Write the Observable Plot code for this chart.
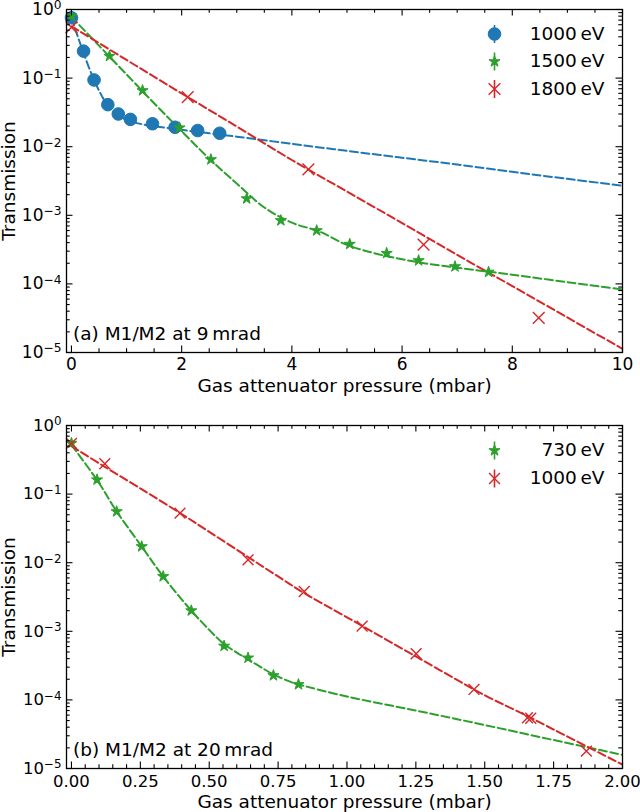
<!DOCTYPE html>
<html><head><meta charset="utf-8">
<script src="https://cdn.jsdelivr.net/npm/d3@7"></script>
<script src="https://cdn.jsdelivr.net/npm/@observablehq/plot@0.6"></script>
<style>
body{margin:0;background:#fff;}
#chart{width:640px;}
#chart svg{display:block;}
</style></head><body><div id="chart"></div>
<script>
// ---------- Panel (a): M1/M2 at 9 mrad ----------
const a_e1000_x = [0, 0.22, 0.41, 0.66, 0.85, 1.07, 1.47, 1.88, 2.29, 2.69];
const a_e1000_y = [0.757, 0.247, 0.094, 0.041, 0.030, 0.025, 0.0216, 0.0192, 0.0172, 0.0157];
const a_e1500_x = [0, 0.69, 1.29, 1.96, 2.53, 3.18, 3.80, 4.45, 5.05, 5.72, 6.30, 6.96, 7.57];
const a_e1500_y = [0.80, 0.209, 0.066, 0.0189, 0.0065, 0.00175, 0.00084, 0.00060, 0.00038, 0.00028, 0.000219, 0.000179, 0.000149];
const a_e1800_x = [0, 2.11, 4.30, 6.39, 8.48];
const a_e1800_y = [0.55, 0.0527, 0.00466, 0.000375, 0.000032];

const a_fit1000_x = [0, 0.1, 0.2, 0.3, 0.4, 0.5, 0.6, 0.7, 0.8, 0.9, 1.0, 1.25, 1.5, 2, 2.5, 3, 4, 5, 6, 7, 8, 9, 10];
const a_fit1000_y = [0.76, 0.438, 0.257, 0.155, 0.098, 0.066, 0.047, 0.0367, 0.0306, 0.0268, 0.0246, 0.0215, 0.0199, 0.0176, 0.0157, 0.0140, 0.0110, 0.0087, 0.0069, 0.0055, 0.0043, 0.0034, 0.0027];
const a_fit1500_x = [0, 0.5, 1.0, 1.5, 2.0, 2.5, 3.0, 3.5, 4.0, 4.5, 5.0, 5.5, 6.0, 6.5, 7.0, 7.5, 8.0, 9.0, 10];
const a_fit1500_y = [0.78, 0.297, 0.113, 0.043, 0.0168, 0.0067, 0.0029, 0.0013, 0.00078, 0.00058, 0.00037, 0.00028, 0.000228, 0.000195, 0.000172, 0.000153, 0.000136, 0.000106, 0.000083];
const a_fit1800_x = [0, 1, 2, 3, 4, 5, 6, 7, 8, 9, 10];
const a_fit1800_y = [0.57, 0.184, 0.0597, 0.0197, 0.0064, 0.00222, 0.00077, 0.000265, 0.000093, 0.0000324, 0.0000113];

// ---------- Panel (b): M1/M2 at 20 mrad ----------
const b_e730_x = [0, 0.093, 0.164, 0.255, 0.333, 0.435, 0.554, 0.641, 0.733, 0.824];
const b_e730_y = [0.552, 0.162, 0.0557, 0.0172, 0.0063, 0.0020, 0.00061, 0.00041, 0.000227, 0.000168];
const b_e1000_x = [0, 0.121, 0.394, 0.641, 0.845, 1.055, 1.251, 1.461, 1.655, 1.667, 1.869];
const b_e1000_y = [0.55, 0.277, 0.0527, 0.011, 0.0038, 0.00119, 0.00047, 0.000142, 0.000055, 0.000054, 0.0000179];

const b_fit730_x = [0, 0.093, 0.164, 0.255, 0.333, 0.435, 0.5, 0.554, 0.6, 0.641, 0.7, 0.733, 0.8, 0.824, 1.0, 1.25, 1.5, 1.75, 2.0];
const b_fit730_y = [0.52, 0.16, 0.056, 0.0172, 0.0063, 0.0020, 0.00105, 0.00065, 0.00049, 0.00039, 0.00028, 0.000235, 0.00018, 0.000168, 0.000112, 0.00007, 0.000043, 0.000026, 0.0000158];
const b_fit1000_x = [0, 0.121, 0.25, 0.394, 0.5, 0.641, 0.75, 0.845, 1.0, 1.25, 1.5, 1.655, 1.75, 2.0];
const b_fit1000_y = [0.50, 0.25, 0.121, 0.053, 0.0282, 0.0121, 0.0063, 0.0036, 0.0016, 0.00043, 0.000117, 0.000058, 0.000037, 0.0000114];

// ---------- ticks / labels ----------
const yMajor = [1e-5, 1e-4, 1e-3, 1e-2, 1e-1, 1];
const a_xMajor = [0, 2, 4, 6, 8, 10];
const a_xMinor = [0.5, 1, 1.5, 2.5, 3, 3.5, 4.5, 5, 5.5, 6.5, 7, 7.5, 8.5, 9, 9.5];
const b_xMajor = [0, 0.25, 0.5, 0.75, 1.0, 1.25, 1.5, 1.75, 2.0];
const xLabel = "Gas attenuator pressure (mbar)";
const yLabel = "Transmission";

const BLUE = "#1f77b4", GREEN = "#2ca02c", RED = "#d62728";
const vbar = {draw(ctx, size) { const h = Math.sqrt(size / Math.PI); ctx.moveTo(0, -h); ctx.lineTo(0, h); }};

function logMinor() {
  const out = [];
  for (const d of yMajor.slice(0, -1)) for (let m = 2; m <= 9; m++) out.push(d * m);
  return out;
}
function linMinor(major, step) {
  const out = [];
  const lo = major[0], hi = major[major.length - 1];
  const n = Math.round((hi - lo) / step);
  for (let i = 0; i <= n; i++) {
    const v = +(lo + i * step).toFixed(6);
    if (!major.some(m => Math.abs(m - v) < 1e-9)) out.push(v);
  }
  return out;
}

function makePanel(cfg) {
  const W = 640, H = 406, ml = 66, mr = 18;
  const fw = W - ml - mr, fh = H - cfg.mt - cfg.mb;
  const yMinor = logMinor();
  const tk = {stroke: "black", strokeWidth: 1.1};
  const marks = [];
  for (const f of cfg.fits) {
    marks.push(Plot.line(d3.zip(f.x, f.y), {x: d => d[0], y: d => d[1], stroke: f.color, strokeWidth: 2, strokeDasharray: "8,3.5", curve: "catmull-rom", clip: true}));
  }
  for (const s of cfg.series) {
    marks.push(Plot.dot(d3.zip(s.x, s.y), {x: d => d[0], y: d => d[1], symbol: s.symbol, r: s.r, fill: s.fill, stroke: s.color, strokeWidth: s.sw}));
  }
  // ticks (inward, all four sides)
  marks.push(
    Plot.tickX(cfg.xMajor, {x: d => d, insetTop: fh - 6.5, ...tk}),
    Plot.tickX(cfg.xMajor, {x: d => d, insetBottom: fh - 6.5, ...tk}),
    Plot.tickX(cfg.xMinor, {x: d => d, insetTop: fh - 3.7, ...tk}),
    Plot.tickX(cfg.xMinor, {x: d => d, insetBottom: fh - 3.7, ...tk}),
    Plot.tickY(yMajor, {y: d => d, insetRight: fw - 6.5, ...tk}),
    Plot.tickY(yMajor, {y: d => d, insetLeft: fw - 6.5, ...tk}),
    Plot.tickY(yMinor, {y: d => d, insetRight: fw - 3.7, ...tk}),
    Plot.tickY(yMinor, {y: d => d, insetLeft: fw - 3.7, ...tk}),
    Plot.frame({stroke: "black", strokeWidth: 1.3}),
    Plot.axisX({ticks: cfg.xMajor, tickSize: 0, tickPadding: cfg.xPad, tickFormat: cfg.xFormat, label: null, fontSize: cfg.tickFont}),
    Plot.axisY({ticks: yMajor, tickSize: 0, tickPadding: 5, tickFormat: d => { const k = Math.round(Math.log10(d)); return "10^" + (k < 0 ? "\u2212" + (-k) : k); }, label: null, fontSize: cfg.tickFont}),
    Plot.text([xLabel], {text: d => d, frameAnchor: "bottom", dy: 26, textAnchor: "middle", lineAnchor: "top", fontSize: 18.5}),
    Plot.text([yLabel], {text: d => d, frameAnchor: "left", dx: -57, rotate: -90, textAnchor: "middle", lineAnchor: "middle", fontSize: 18.5}),
    Plot.text([cfg.tag], {text: d => d, frameAnchor: "bottom-left", dx: 6.5, dy: -18, textAnchor: "start", lineAnchor: "middle", fontSize: 18.5})
  );
  cfg.series.forEach((s, i) => {
    const dy = cfg.legTop + cfg.legStep * i;
    marks.push(
      Plot.dot([0], {frameAnchor: "top-right", dx: -128, dy, symbol: vbar, r: 9, stroke: s.color, strokeWidth: 1.6, fill: "none"}),
      Plot.dot([0], {frameAnchor: "top-right", dx: -128, dy, symbol: s.symbol, r: s.r, fill: s.fill, stroke: s.color, strokeWidth: s.sw}),
      Plot.text([s.label], {text: d => d, frameAnchor: "top-right", dx: -18, dy, textAnchor: "end", lineAnchor: "middle", fontSize: 18.5})
    );
  });
  const svg = Plot.plot({
    width: W, height: H, marginLeft: ml, marginRight: mr, marginTop: cfg.mt, marginBottom: cfg.mb,
    style: {fontFamily: "'DejaVu Sans', sans-serif", fontSize: "17px", background: "white", color: "black", overflow: "visible"},
    x: {type: "linear", domain: cfg.xDomain},
    y: {type: "log", domain: [1e-5, 1]},
    marks
  });
  // superscript exponents
  svg.querySelectorAll("text").forEach(t => {
    const m = t.textContent.match(/^10\^(.+)$/);
    if (m && t.children.length === 0) {
      t.textContent = "10";
      const ts = document.createElementNS("http://www.w3.org/2000/svg", "tspan");
      ts.setAttribute("dy", "-0.45em");
      ts.setAttribute("font-size", "0.72em");
      ts.textContent = m[1];
      t.appendChild(ts);
    }
  });
  return svg;
}

const chart = document.getElementById("chart");
chart.appendChild(makePanel({
  mt: 9, mb: 54, xDomain: [-0.09, 10], xMajor: a_xMajor, xMinor: a_xMinor, xPad: 5, tickFont: 17,
  xFormat: d => String(d), tag: "(a) M1/M2 at 9\u2009mrad", legTop: 24.5, legStep: 27.5,
  fits: [
    {x: a_fit1000_x, y: a_fit1000_y, color: BLUE},
    {x: a_fit1500_x, y: a_fit1500_y, color: GREEN},
    {x: a_fit1800_x, y: a_fit1800_y, color: RED}
  ],
  series: [
    {x: a_e1000_x, y: a_e1000_y, color: BLUE, fill: BLUE, symbol: "circle", r: 6.3, sw: 1, label: "1000\u2009eV"},
    {x: a_e1500_x, y: a_e1500_y, color: GREEN, fill: GREEN, symbol: "star", r: 3.5, sw: 1, label: "1500\u2009eV"},
    {x: a_e1800_x, y: a_e1800_y, color: RED, fill: "none", symbol: "times", r: 5.4, sw: 1.4, label: "1800\u2009eV"}
  ]
}));
chart.appendChild(makePanel({
  mt: 19, mb: 44, xDomain: [-0.018, 2.0], xMajor: b_xMajor, xMinor: linMinor(b_xMajor, 0.05), xPad: 6.5, tickFont: 16.5,
  xFormat: d3.format(".2f"), tag: "(b) M1/M2 at 20\u2009mrad", legTop: 25, legStep: 28,
  fits: [
    {x: b_fit730_x, y: b_fit730_y, color: GREEN},
    {x: b_fit1000_x, y: b_fit1000_y, color: RED}
  ],
  series: [
    {x: b_e730_x, y: b_e730_y, color: GREEN, fill: GREEN, symbol: "star", r: 3.5, sw: 1, label: "730\u2009eV"},
    {x: b_e1000_x, y: b_e1000_y, color: RED, fill: "none", symbol: "times", r: 5, sw: 1.4, label: "1000\u2009eV"}
  ]
}));
</script>
</body></html>
